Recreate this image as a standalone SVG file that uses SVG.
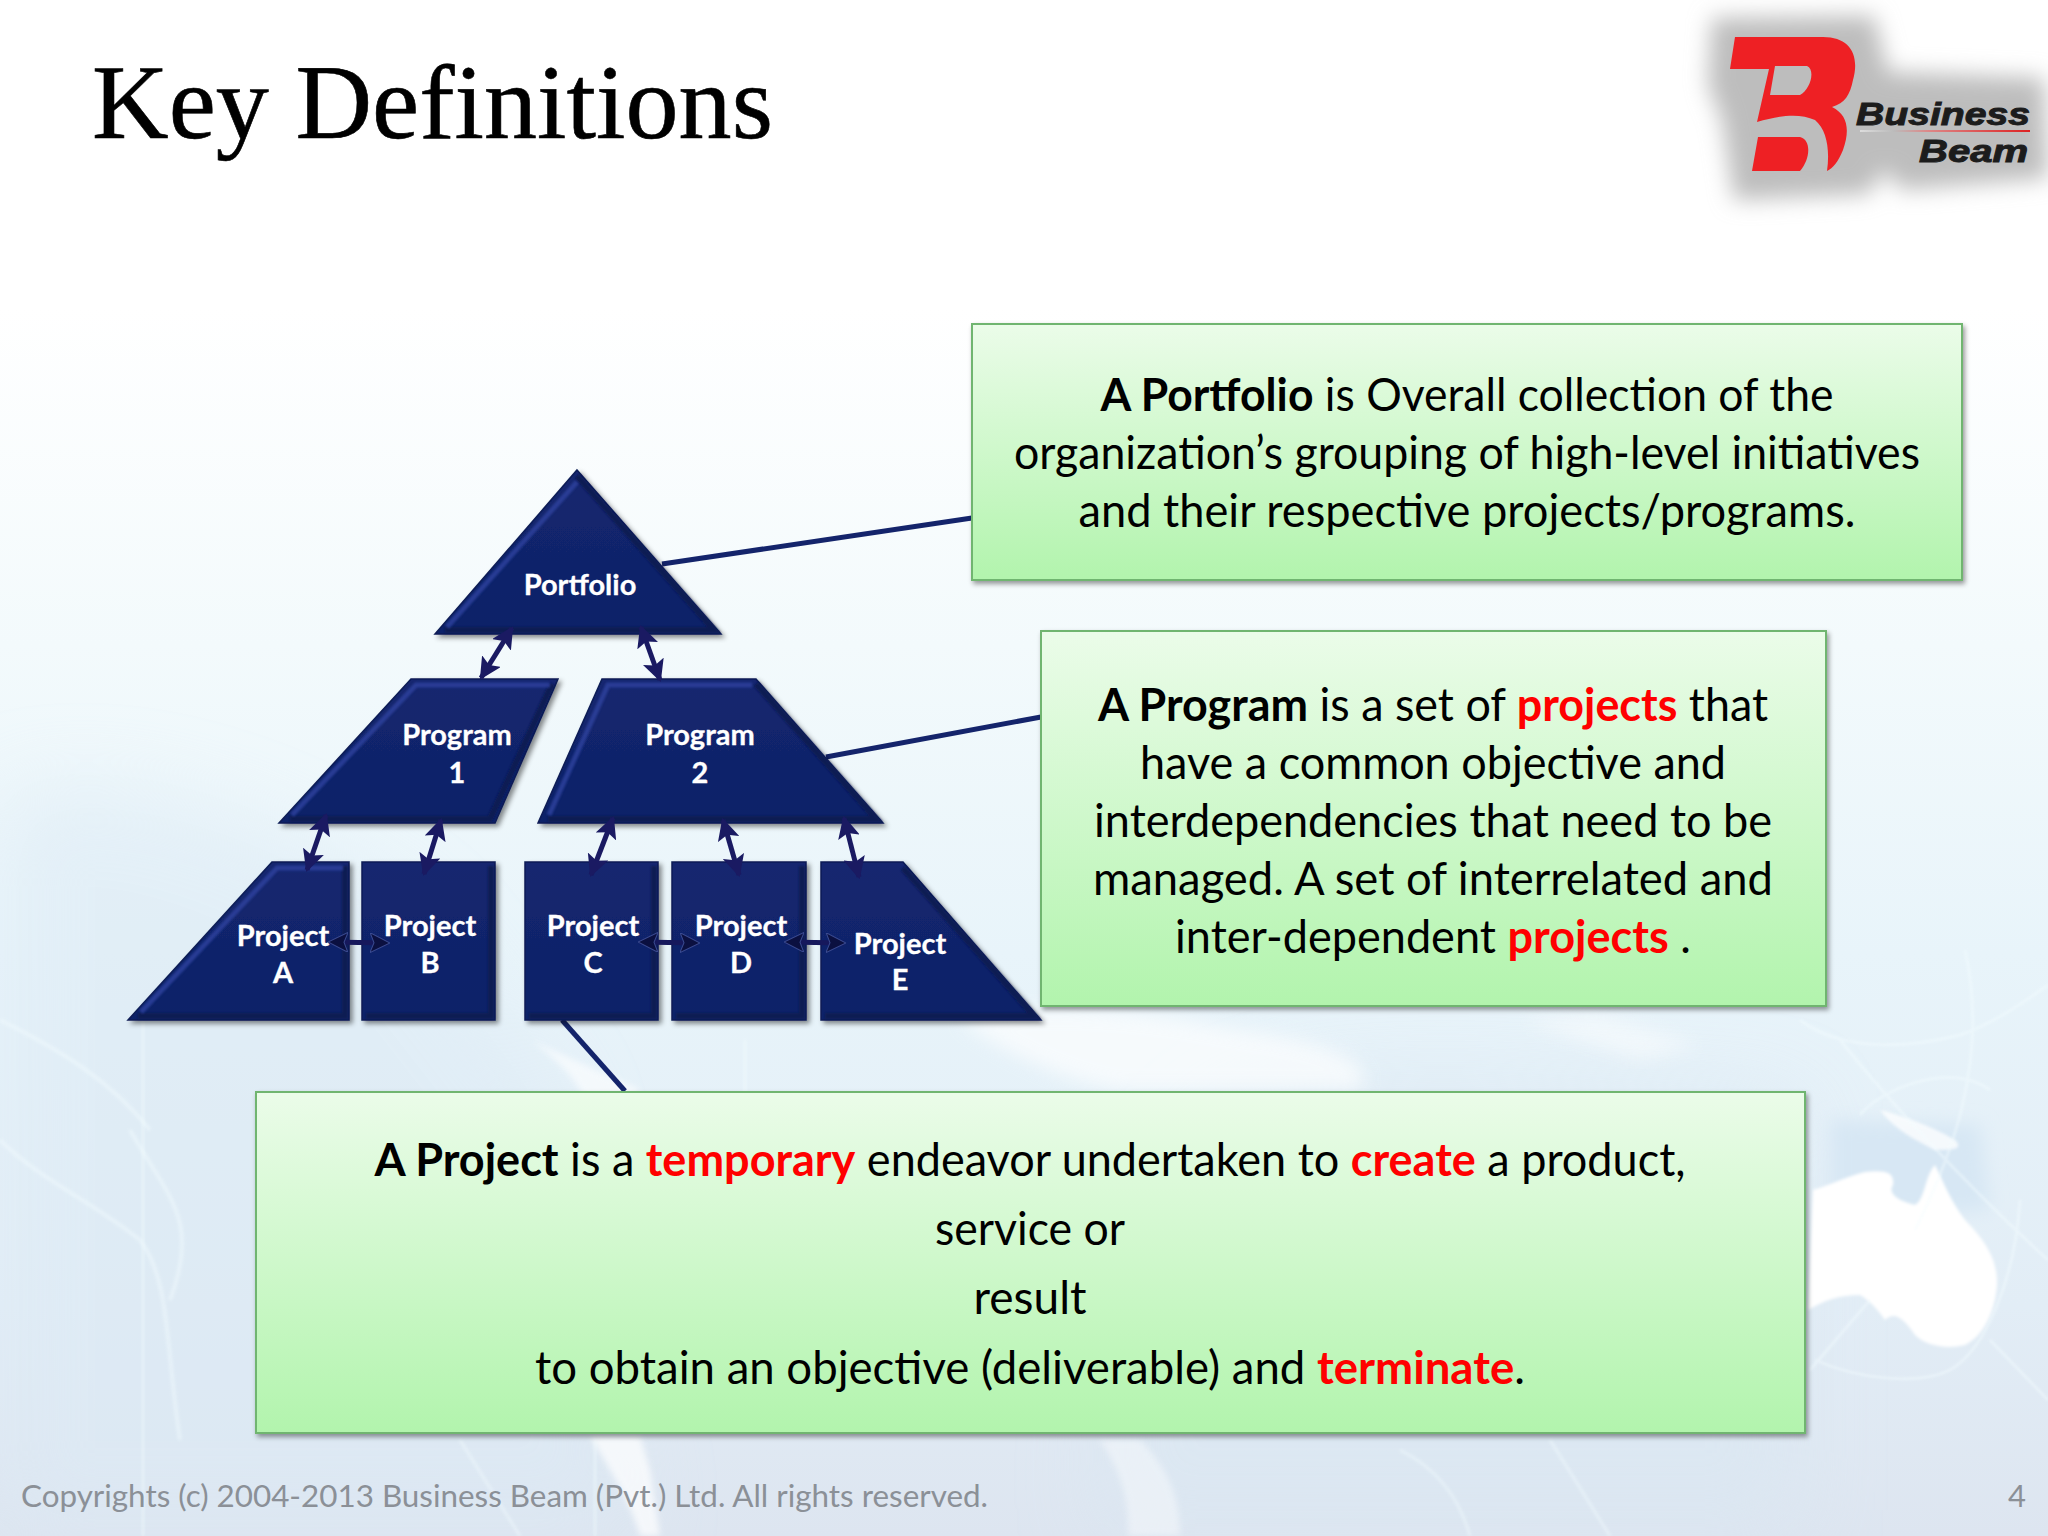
<svg xmlns="http://www.w3.org/2000/svg" width="2048" height="1536" viewBox="0 0 2048 1536">
<style>
.body{font-family:"Lato","Open Sans",sans-serif;font-size:46px;fill:#000;text-anchor:middle}
.b{font-weight:700}
.r{font-weight:700;fill:#f00}
.lab{font-family:"Lato","Open Sans",sans-serif;font-size:29px;font-weight:700;fill:#fff;text-anchor:middle;stroke:#fff;stroke-width:.3}
.nd{fill:url(#navy);stroke:#0c1c55;stroke-width:1.5;filter:url(#sh)}
.bev{fill:none;stroke:#2f439f;stroke-width:5;opacity:.8;filter:url(#s1)}
.dk{fill:none;stroke:#0a1a52;stroke-width:6;filter:url(#s1)}
.box{fill:url(#green);stroke:#6fb56f;stroke-width:2;filter:url(#bs)}
.call{stroke:#14246b;stroke-width:5;fill:none}
.arr{stroke:#1a1a62;stroke-width:5;fill:none;marker-start:url(#ah);marker-end:url(#ah)}
.hz{stroke:#16185c;stroke-width:5;fill:none;marker-start:url(#ah2);marker-end:url(#ah2)}
.st{stroke:#f4fdff;fill:none;opacity:.42}
</style>
<defs>
<linearGradient id="bg" x1="0" y1="0" x2="0" y2="1"><stop offset="0" stop-color="#fff"/><stop offset=".2" stop-color="#fff"/><stop offset=".42" stop-color="#f3fafc"/><stop offset=".62" stop-color="#e8f4fa"/><stop offset=".85" stop-color="#e2edf6"/><stop offset="1" stop-color="#dde5f0"/></linearGradient>
<linearGradient id="green" x1="0" y1="0" x2="0" y2="1"><stop offset="0" stop-color="#ebfce9"/><stop offset="1" stop-color="#b2f4ad"/></linearGradient>
<linearGradient id="navy" x1="0" y1="0" x2="0" y2="1"><stop offset="0" stop-color="#14276f"/><stop offset="1" stop-color="#0e2168"/></linearGradient>
<linearGradient id="ul" x1="0" y1="0" x2="1" y2="0"><stop offset="0" stop-color="#ddd"/><stop offset=".2" stop-color="#bbb"/><stop offset=".4" stop-color="#d88"/><stop offset="1" stop-color="#d22"/></linearGradient>
<filter id="sh" x="-10%" y="-10%" width="125%" height="125%"><feDropShadow dx="3" dy="3" stdDeviation="2.5" flood-color="#000" flood-opacity=".45"/></filter>
<filter id="bs" x="-5%" y="-5%" width="110%" height="110%"><feDropShadow dx="2" dy="3" stdDeviation="2.5" flood-color="#000" flood-opacity=".4"/></filter>
<filter id="s1"><feGaussianBlur stdDeviation="1"/></filter>
<filter id="s3" x="-10%" y="-10%" width="120%" height="120%"><feGaussianBlur stdDeviation="3"/></filter>
<filter id="s8" x="-20%" y="-20%" width="140%" height="140%"><feGaussianBlur stdDeviation="9"/></filter>
<filter id="s12" x="-25%" y="-40%" width="150%" height="180%"><feGaussianBlur stdDeviation="11"/></filter>
<filter id="s30" x="-40%" y="-40%" width="180%" height="180%"><feGaussianBlur stdDeviation="40"/></filter>
<filter id="s2" x="-5%" y="-5%" width="110%" height="110%"><feGaussianBlur stdDeviation="1.5"/></filter>
<marker id="ah" viewBox="0 0 10 10" refX="9" refY="5" markerWidth="4.4" markerHeight="4.4" orient="auto-start-reverse"><path d="M0 0L10 5L0 10L2 5Z" fill="#1a1a62"/></marker>
<marker id="ah2" viewBox="0 0 10 10" refX="9" refY="5" markerWidth="4" markerHeight="4" orient="auto-start-reverse"><path d="M0 0L10 5L0 10L2 5Z" fill="#0b1040" stroke="#3a4a90" stroke-width=".5"/></marker>
</defs>
<g id="background">
<rect width="2048" height="1536" fill="url(#bg)"/>
<path d="M0 800C120 760 300 830 420 920L560 1100L640 1536L0 1536Z" fill="#dbe9f4" opacity=".5" filter="url(#s30)"/>
<path d="M1250 1100C1400 1060 1600 1090 1800 1100L1800 1536L1100 1536C1100 1300 1150 1150 1250 1100Z" fill="#dae7f2" opacity=".6" filter="url(#s30)"/>
<path d="M1830 1120L1980 1125L1990 1210L1830 1220Z" fill="#d7e7f4" filter="url(#s8)"/>
<path d="M530 1040C560 1060 590 1090 600 1140L640 1090Z" fill="#fff" opacity=".6" filter="url(#s3)"/>
<path d="M960 1020C1000 1050 1060 1080 1120 1090L1360 1090C1380 1060 1320 1040 1240 1030C1140 1010 1040 1000 960 1020Z" fill="#fff" opacity=".65" filter="url(#s8)"/>
<path d="M1520 1020L1600 1015L1700 1045L1640 1060Z" fill="#fff" opacity=".45" filter="url(#s8)"/>
<path d="M1100 1440C1120 1470 1130 1500 1128 1536L1180 1536C1180 1500 1170 1470 1140 1440Z" fill="#fff" opacity=".4" filter="url(#s3)"/>
<path d="M590 1436C610 1470 630 1500 640 1536L660 1536L650 1470L640 1436Z" fill="#fff" opacity=".7" filter="url(#s3)"/>
<path id="australia" d="M1813 1190C1830 1185 1850 1175 1865 1172C1885 1170 1895 1172 1893 1185C1888 1192 1895 1200 1915 1205C1925 1200 1925 1175 1935 1165C1945 1185 1950 1200 1965 1220C1985 1240 1998 1260 1997 1285C1995 1310 1985 1335 1965 1345C1945 1350 1925 1345 1915 1335C1905 1320 1895 1310 1885 1320C1875 1305 1865 1298 1860 1295C1840 1295 1825 1300 1808 1310Z" fill="#fff" filter="url(#s2)"/>
<path d="M1880 1110C1900 1115 1930 1125 1955 1140C1965 1150 1950 1150 1935 1150C1915 1140 1895 1130 1880 1110Z" fill="#fff" opacity=".75" filter="url(#s2)"/>
<path d="M1815 1360C1860 1380 1920 1385 1950 1370C1985 1350 2015 1280 2020 1200M1965 950C1990 1060 1950 1160 1915 1230M1800 1020C1840 1050 1900 1050 1960 1035C1990 1025 2020 1005 2048 985M1840 1040C1880 1090 1960 1180 2048 1260M1860 1115C1880 1090 1950 1060 1990 1090M1810 1370L1870 1300M1990 1340L2048 1400" class="st" stroke-width="3" filter="url(#s1)"/>
<path d="M0 1140C40 1180 90 1200 140 1240C170 1280 165 1340 180 1440M130 1130C170 1200 200 1220 170 1300M0 1020C60 1050 110 1080 150 1130" class="st" stroke-width="4" filter="url(#s2)"/>
<path d="M143 1020V1536M745 1040V1160M595 1440V1536" class="st" stroke-width="2.5" filter="url(#s1)"/>
<path d="M1400 1450C1440 1470 1460 1500 1470 1536M1550 1440L1610 1536M460 1440L520 1536" class="st" stroke-width="3" filter="url(#s2)"/>
</g>
<text id="title" x="92" y="138" font-family="Liberation Serif,serif" font-size="106" fill="#000" stroke="#000" stroke-width=".6" textLength="681" lengthAdjust="spacingAndGlyphs">Key Definitions</text>
<g id="logo">
<path d="M1712 18L1874 16L1888 72L2044 78L2048 178L1902 190L1885 170L1868 194L1734 200L1722 120L1708 85Z" fill="#bdbdbd" filter="url(#s12)"/>
<path d="M1735 37H1823C1850 37 1860 55 1853 80C1850 95 1845 103 1832 107C1848 115 1850 130 1843 150C1838 162 1833 168 1827 171C1830 150 1827 130 1815 120C1800 113 1780 115 1757 122L1769 69H1730ZM1775 66L1770 95H1800C1810 90 1816 70 1807 66ZM1758 137H1800C1812 140 1810 160 1800 171H1752Z" fill="#ee2024" fill-rule="evenodd"/>
<text x="1856" y="125" font-family="Liberation Sans,sans-serif" font-size="32" font-weight="700" font-style="italic" fill="#1c1c1c" stroke="#1c1c1c" stroke-width="1" textLength="174" lengthAdjust="spacingAndGlyphs">Business</text>
<rect x="1860" y="130" width="170" height="2" fill="url(#ul)"/>
<text x="1919" y="162" font-family="Liberation Sans,sans-serif" font-size="32" font-weight="700" font-style="italic" fill="#1c1c1c" stroke="#1c1c1c" stroke-width="1" textLength="109" lengthAdjust="spacingAndGlyphs">Beam</text>
</g>
<g id="connectors-callout">
<path class="call" d="M662 564L972 518"/>
<path class="call" d="M826 757L1041 717"/>
<path class="call" d="M562 1020L625 1091"/>
</g>
<g id="node-portfolio"><polygon class="nd" points="577,470 721,634 435,634"/><polyline class="dk" points="577,476 714,630 445,630"/><polyline class="bev" points="447,627 577,482"/><text class="lab" x="580" y="595">Portfolio</text></g>
<g id="node-program1"><polygon class="nd" points="411,679 558,679 495,823 279,823"/><polyline class="dk" points="552,684 490,819 290,819"/><polyline class="bev" points="292,815 416,685 550,685"/><text class="lab" x="457" y="745">Program</text><text class="lab" x="457" y="783">1</text></g>
<g id="node-program2"><polygon class="nd" points="602,679 756,679 883,823 538,823"/><polyline class="dk" points="756,684 876,819 548,819"/><polyline class="bev" points="549,815 608,685 752,685"/><text class="lab" x="700" y="745">Program</text><text class="lab" x="700" y="783">2</text></g>
<g id="node-projecta"><polygon class="nd" points="272,862 349,862 349,1020 128,1020"/><polyline class="dk" points="345,866 345,1016 138,1016"/><polyline class="bev" points="141,1012 277,868 343,868"/><text class="lab" x="283" y="946">Project</text><text class="lab" x="283" y="983">A</text></g>
<g id="node-projectb"><polygon class="nd" points="362,862 495,862 495,1020 362,1020"/><polyline class="dk" points="491,866 491,1016 366,1016"/><polyline class="bev" points="366,868 489,868"/><text class="lab" x="430" y="936">Project</text><text class="lab" x="430" y="973">B</text></g>
<g id="node-projectc"><polygon class="nd" points="525,862 658,862 658,1020 525,1020"/><polyline class="dk" points="654,866 654,1016 529,1016"/><polyline class="bev" points="529,868 652,868"/><text class="lab" x="593" y="936">Project</text><text class="lab" x="593" y="973">C</text></g>
<g id="node-projectd"><polygon class="nd" points="672,862 806,862 806,1020 672,1020"/><polyline class="dk" points="802,866 802,1016 676,1016"/><polyline class="bev" points="676,868 800,868"/><text class="lab" x="741" y="936">Project</text><text class="lab" x="741" y="973">D</text></g>
<g id="node-projecte"><polygon class="nd" points="821,862 903,862 1041,1020 821,1020"/><polyline class="dk" points="903,868 1034,1016 825,1016"/><polyline class="bev" points="825,868 897,868"/><text class="lab" x="900" y="954">Project</text><text class="lab" x="900" y="990">E</text></g>
<g id="connectors">
<path class="arr" d="M512 628L481 678"/>
<path class="arr" d="M641 627L660 680"/>
<path class="arr" d="M326 815L307 870"/>
<path class="arr" d="M441 820L424 874"/>
<path class="arr" d="M613 818L591 875"/>
<path class="arr" d="M723 820L739 875"/>
<path class="arr" d="M844 818L859 877"/>
<path class="hz" d="M330 942L388 943"/>
<path class="hz" d="M640 942L698 943"/>
<path class="hz" d="M786 942L844 943"/>
</g>
<g id="box-portfolio"><rect class="box" x="972" y="324" width="990" height="256"/>
<text class="body" x="1467" y="411" textLength="733" lengthAdjust="spacingAndGlyphs"><tspan class="b">A Portfolio</tspan> is Overall collection of the</text>
<text class="body" x="1467" y="469" textLength="906" lengthAdjust="spacingAndGlyphs">organization’s grouping of high-level initiatives</text>
<text class="body" x="1467" y="527" textLength="777" lengthAdjust="spacingAndGlyphs">and their respective projects/programs.</text></g>
<g id="box-program"><rect class="box" x="1041" y="631" width="785" height="375"/>
<text class="body" x="1433" y="721" textLength="670" lengthAdjust="spacingAndGlyphs"><tspan class="b">A Program</tspan> is a set of <tspan class="r">projects</tspan> that</text>
<text class="body" x="1433" y="779" textLength="586" lengthAdjust="spacingAndGlyphs">have a common objective and</text>
<text class="body" x="1433" y="837" textLength="678" lengthAdjust="spacingAndGlyphs">interdependencies that need to be</text>
<text class="body" x="1433" y="895" textLength="680" lengthAdjust="spacingAndGlyphs">managed. A set of interrelated and</text>
<text class="body" x="1433" y="953" textLength="516" lengthAdjust="spacingAndGlyphs">inter-dependent <tspan class="r">projects</tspan> .</text></g>
<g id="box-project"><rect class="box" x="256" y="1092" width="1549" height="341"/>
<text class="body" x="1030" y="1176" textLength="1311" lengthAdjust="spacingAndGlyphs"><tspan class="b">A Project</tspan> is a <tspan class="r">temporary</tspan> endeavor undertaken to <tspan class="r">create</tspan> a product,</text>
<text class="body" x="1030" y="1245" textLength="190" lengthAdjust="spacingAndGlyphs">service or</text>
<text class="body" x="1030" y="1314" textLength="113" lengthAdjust="spacingAndGlyphs">result</text>
<text class="body" x="1030" y="1384" textLength="990" lengthAdjust="spacingAndGlyphs">to obtain an objective (deliverable) and <tspan class="r">terminate</tspan>.</text></g>
<g id="footer" font-family="Lato,Open Sans,sans-serif" font-size="31" fill="#8b9097">
<text x="21" y="1507" textLength="967" lengthAdjust="spacingAndGlyphs">Copyrights (c) 2004-2013 Business Beam (Pvt.) Ltd. All rights reserved.</text>
<text x="2026" y="1507" text-anchor="end">4</text>
</g>
</svg>
